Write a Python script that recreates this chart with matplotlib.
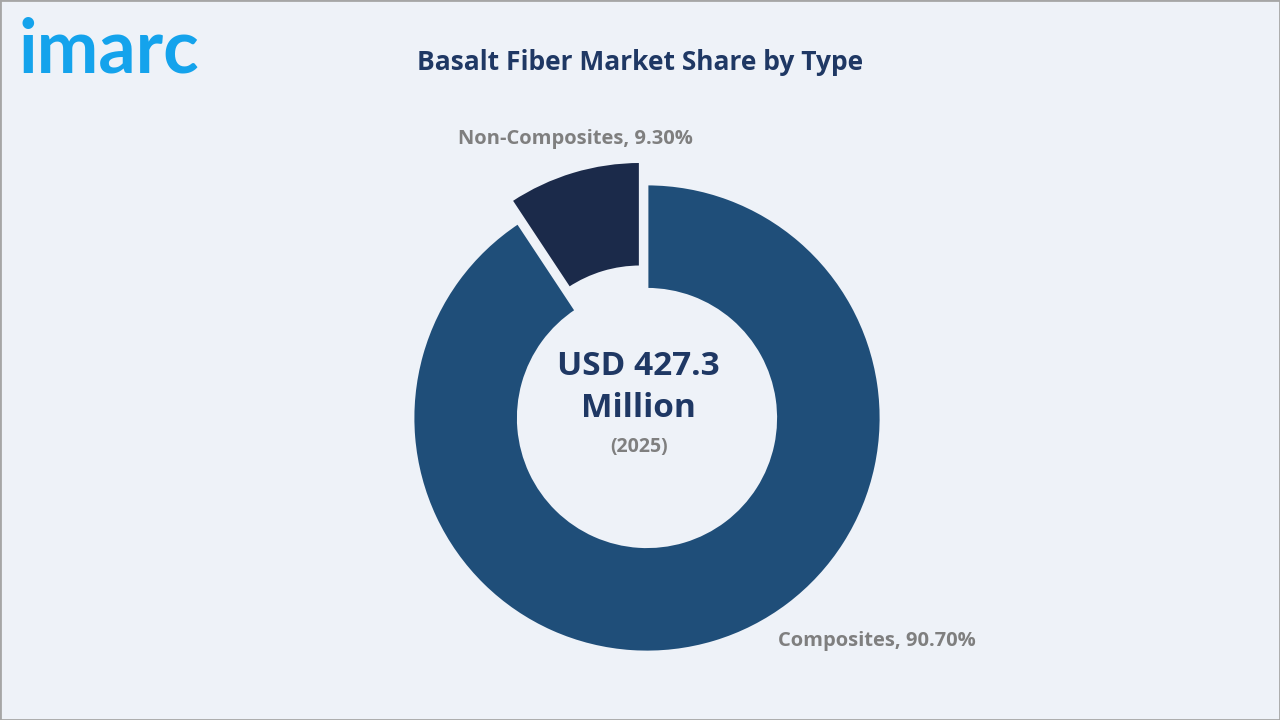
import matplotlib.pyplot as plt
from matplotlib.patches import Rectangle

# chart data
categories = ["Composites", "Non-Composites"]
shares = [90.70, 9.30]
market_value = "USD 427.3\nMillion"
year = "(2025)"
title = "Basalt Fiber Market Share by Type"

bg = "#EEF2F8"
colors = ["#1F4E79", "#1B2A4A"]
navy = "#1F3864"
gray = "#7F7F7F"

plt.rcParams["font.family"] = ["Open Sans", "DejaVu Sans"]

fig = plt.figure(figsize=(12.8, 7.2), dpi=100, facecolor=bg)

# thin gray frame around the picture
fig.patches.append(Rectangle((0, 0), 1, 1, transform=fig.transFigure,
                             fill=False, edgecolor="#A6A6A6", linewidth=2))

# square axes centred on the donut (centre ~ (647, 418) px, radius ~234 px)
r_px = 234
half = 1.2 * r_px
ax = fig.add_axes([(647 - half) / 1280, (720 - 418 - half) / 720,
                   2 * half / 1280, 2 * half / 720])
ax.set_facecolor(bg)

wedges, _ = ax.pie(shares, colors=colors, startangle=90, counterclock=False,
                   explode=[0, 0.1], radius=1,
                   wedgeprops=dict(width=0.45, edgecolor=bg, linewidth=2))
ax.set_xlim(-1.2, 1.2)
ax.set_ylim(-1.2, 1.2)
ax.set_aspect("equal")
ax.axis("off")

# centre text
ax.text(-0.035, 0.13, market_value, ha="center", va="center", fontsize=24,
        fontweight="bold", color=navy, linespacing=1.35)
ax.text(-0.035, -0.125, year, ha="center", va="center", fontsize=14,
        fontweight="bold", color=gray)

# slice labels
fig.text(575 / 1280, 1 - 139 / 720, f"{categories[1]}, {shares[1]:.2f}%",
         ha="center", va="center", fontsize=14.5, fontweight="bold", color=gray)
fig.text(877 / 1280, 1 - 641 / 720, f"{categories[0]}, {shares[0]:.2f}%",
         ha="center", va="center", fontsize=14.5, fontweight="bold", color=gray)

# title and logo
fig.text(640 / 1280, 1 - 62 / 720, title, ha="center", va="center",
         fontsize=19, fontweight="bold", color=navy)
fig.text(19 / 1280, 1 - 51 / 720, "imarc", ha="left", va="center",
         fontsize=53, fontweight="bold", color="#14A3EC", family="Lato")

fig.savefig("out.png", dpi=100, facecolor=bg)
